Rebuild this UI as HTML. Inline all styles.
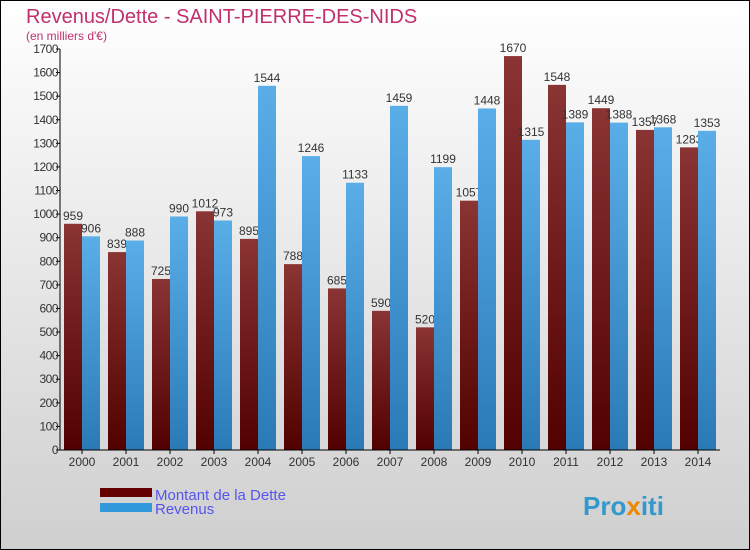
<!DOCTYPE html>
<html><head><meta charset="utf-8"><style>
body{margin:0}
svg{display:block;font-family:"Liberation Sans",sans-serif}
</style></head><body>
<svg id="c" width="750" height="550" xmlns="http://www.w3.org/2000/svg">
<defs>
<linearGradient id="bg" x1="0" y1="0" x2="0" y2="1"><stop offset="0" stop-color="#ffffff"/><stop offset="1" stop-color="#cfcfcf"/></linearGradient>
<linearGradient id="gd" x1="0" y1="0" x2="0" y2="1"><stop offset="0" stop-color="#8a3434"/><stop offset="1" stop-color="#520000"/></linearGradient>
<linearGradient id="gr" x1="0" y1="0" x2="0" y2="1"><stop offset="0" stop-color="#5aaee8"/><stop offset="1" stop-color="#2a7ab8"/></linearGradient>
</defs>
<rect x="0.5" y="0.5" width="749" height="549" fill="url(#bg)" stroke="#000"/>
<text x="26" y="23" font-size="20" fill="#c0306a">Revenus/Dette - SAINT-PIERRE-DES-NIDS</text>
<text x="26" y="40" font-size="12" fill="#c0306a">(en milliers d'€)</text>
<g id="bars"></g>
<g id="axes"></g>
<rect x="100" y="488" width="52" height="9" fill="#640000"/>
<rect x="100" y="503" width="52" height="9" fill="#3399dd"/>
<text x="155" y="500" font-size="15" fill="#5555ee">Montant de la Dette</text>
<text x="155" y="514" font-size="15" fill="#5555ee">Revenus</text>
<text x="583" y="515" font-size="26" font-weight="bold" fill="#3399cc">Pro<tspan fill="#ee8800">x</tspan>iti</text>
</svg>
<script>
const years=["2000","2001","2002","2003","2004","2005","2006","2007","2008","2009","2010","2011","2012","2013","2014"];
const dette=[959,839,725,1012,895,788,685,590,520,1057,1670,1548,1449,1357,1283];
const revenus=[906,888,990,973,1544,1246,1133,1459,1199,1448,1315,1389,1388,1368,1353];
const ticks=[0,100,200,300,400,500,600,700,800,900,1000,1100,1200,1300,1400,1500,1600,1700];
const NS="http://www.w3.org/2000/svg";
const x0=60,gw=44,y0=450,ymax=1700,ph=401,bw=18;
const y=v=>y0-v/ymax*ph;
const gx=i=>x0+gw*i+gw/2;
function mk(t,a,p){const e=document.createElementNS(NS,t);for(const k in a)e.setAttribute(k,a[k]);p.appendChild(e);return e;}
const B=document.getElementById('bars'),A=document.getElementById('axes');
years.forEach((yr,i)=>{
 const c=gx(i);
 [[dette[i],c-bw,'url(#gd)','dette'],[revenus[i],c,'url(#gr)','revenus']].forEach(([v,x,f,n])=>{
  const r=mk('rect',{x:x,y:y(v),width:bw,height:y0-y(v),fill:f},B);
  
  
  const t=mk('text',{x:x+bw/2,y:y(v)-4,'font-size':12,'text-anchor':'middle',fill:'#333'},B);
  t.textContent=v;
  
  
 });
 const tk=mk('line',{x1:c,x2:c,y1:y0,y2:y0+4,stroke:'#000'},A);
 
 
 const l=mk('text',{x:c,y:y0+16,'font-size':12,'text-anchor':'middle',fill:'#333'},A);
 l.textContent=yr;
 
 
});
ticks.forEach(v=>{
 const tk=mk('line',{x1:x0-4,x2:x0,y1:y(v),y2:y(v),stroke:'#000'},A);
 
 
 const l=mk('text',{x:x0-2,y:y(v)+4,'font-size':12,'text-anchor':'end',fill:'#333','letter-spacing':'-0.5'},A);
 l.textContent=v;
 
 
});
const ya=mk('line',{x1:x0,x2:x0,y1:y(ymax),y2:y0,stroke:'#000'},A);


const xa=mk('line',{x1:x0,x2:x0+gw*years.length,y1:y0,y2:y0,stroke:'#000'},A);


</script>
</body></html>
